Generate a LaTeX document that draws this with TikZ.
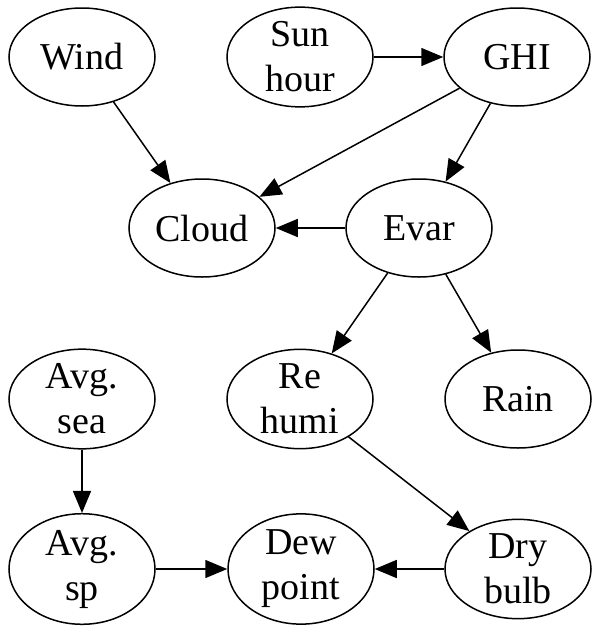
\documentclass[tikz,border=0pt]{standalone}
\usepackage{fontspec}
\setmainfont{Liberation Serif}
\usetikzlibrary{shapes.geometric,arrows.meta}
\begin{document}
\begin{tikzpicture}[x=0.5pt,y=-0.5pt,
  var/.style={draw,ellipse,line width=0.75pt,minimum width=73pt,minimum height=49pt,inner sep=0pt,align=center,
    font=\fontsize{19}{22.5}\selectfont},
  edge/.style={draw,line width=0.75pt,-{Triangle[length=11pt,width=9pt]}}]
\useasboundingbox (0,0) rectangle (599,627);
\node[var] (wind) at (82,57) {Wind};
\node[var] (sun) at (300,57) {Sun\\hour};
\node[var] (ghi) at (517,57) {GHI};
\node[var] (cloud) at (202,228) {Cloud};
\node[var] (evar) at (419,228) {Evar};
\node[var] (sea) at (82,399) {Avg.\\sea};
\node[var] (humi) at (300,399) {Re\\humi};
\node[var] (rain) at (518,399) {Rain};
\node[var] (sp) at (82,569) {Avg.\\sp};
\node[var] (dew) at (301,569) {Dew\\point};
\node[var] (dry) at (518,569) {Dry\\bulb};
\draw[edge] (wind) -- (cloud);
\draw[edge] (sun) -- (ghi);
\draw[edge] (ghi) -- (cloud);
\draw[edge] (ghi) -- (evar);
\draw[edge] (evar) -- (cloud);
\draw[edge] (evar) -- (humi);
\draw[edge] (evar) -- (rain);
\draw[edge] (sea) -- (sp);
\draw[edge] (sp) -- (dew);
\draw[edge] (humi) -- (dry);
\draw[edge] (dry) -- (dew);
\end{tikzpicture}
\end{document}
